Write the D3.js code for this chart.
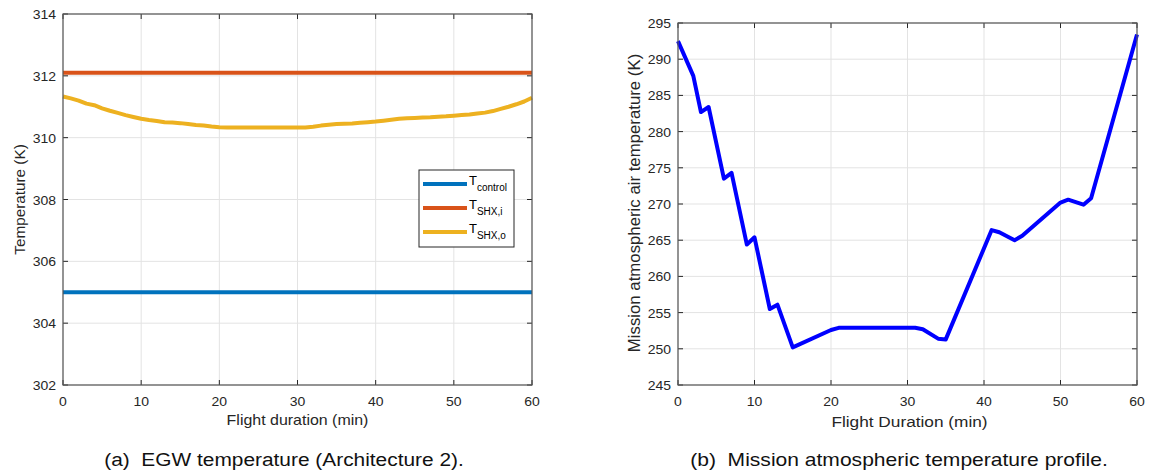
<!DOCTYPE html>
<html>
<head>
<meta charset="utf-8">
<script src="https://cdn.jsdelivr.net/npm/d3@7"></script>
<style>
    body { margin: 0; background: #fff; }
    svg { font-family: "Liberation Sans", Arial, sans-serif; }
</style>
</head>
<body>
<div id="chart"></div>
<script>
// (a) EGW temperature, values every minute
const minutes = d3.range(0, 61);
const tControl = minutes.map(() => 305.0);
const tShxIn = minutes.map(() => 312.1);
const tShxOut = [
    311.33, 311.27, 311.20, 311.10, 311.05, 310.95, 310.87, 310.80, 310.73, 310.67,
    310.61, 310.57, 310.54, 310.50, 310.49, 310.47, 310.44, 310.41, 310.39, 310.36,
    310.34, 310.33, 310.33, 310.33, 310.33, 310.33, 310.33, 310.33, 310.33, 310.33,
    310.33, 310.33, 310.35, 310.39, 310.42, 310.44, 310.45, 310.46, 310.48, 310.50,
    310.52, 310.55, 310.58, 310.61, 310.63, 310.64, 310.65, 310.66, 310.68, 310.69,
    310.71, 310.73, 310.75, 310.78, 310.81, 310.86, 310.93, 311.00, 311.08, 311.17,
    311.29
];
const ticksXA = [0, 10, 20, 30, 40, 50, 60];
const ticksYA = [302, 304, 306, 308, 310, 312, 314];

// (b) mission atmospheric temperature profile
const missionTime = [0, 2, 3, 4, 6, 7, 9, 10, 12, 13, 15, 20, 21, 31, 32, 34, 35, 41, 42, 44, 45, 50, 51, 53, 54, 60];
const missionTemp = [292.5, 287.7, 282.7, 283.4, 273.5, 274.3, 264.4, 265.4, 255.5, 256.1, 250.2, 252.6, 252.9, 252.9, 252.7, 251.4, 251.3, 266.4, 266.1, 265.0, 265.6, 270.2, 270.6, 269.9, 270.8, 293.4];
const ticksYB = [245, 250, 255, 260, 265, 270, 275, 280, 285, 290, 295];

const svg = d3.select("#chart").append("svg")
    .attr("width", 1150)
    .attr("height", 473);

// the figure is a bit stretched sideways, so text gets a small x scale
function label(g, x, y, str, size, anchor, sx, color) {
    return g.append("text")
        .attr("transform", `translate(${x},${y}) scale(${sx},1)`)
        .attr("text-anchor", anchor)
        .attr("font-size", size)
        .attr("fill", color || "#262626")
        .style("white-space", "pre")
        .text(str);
}

function drawGrid(g, x, y, xt, yt, w, h) {
    g.append("g").selectAll("line").data(xt).enter().append("line")
        .attr("x1", d => x(d)).attr("x2", d => x(d))
        .attr("y1", 0).attr("y2", h)
        .attr("stroke", "#e3e3e3").attr("stroke-width", 1);
    g.append("g").selectAll("line").data(yt).enter().append("line")
        .attr("x1", 0).attr("x2", w)
        .attr("y1", d => y(d)).attr("y2", d => y(d))
        .attr("stroke", "#e3e3e3").attr("stroke-width", 1);
}

function drawFrame(g, x, y, xt, yt, w, h) {
    const tl = 5;
    const c = "#262626";
    // inward ticks on all four sides
    xt.forEach(d => {
        g.append("line").attr("x1", x(d)).attr("x2", x(d)).attr("y1", h).attr("y2", h - tl).attr("stroke", c);
        g.append("line").attr("x1", x(d)).attr("x2", x(d)).attr("y1", 0).attr("y2", tl).attr("stroke", c);
    });
    yt.forEach(d => {
        g.append("line").attr("x1", 0).attr("x2", tl).attr("y1", y(d)).attr("y2", y(d)).attr("stroke", c);
        g.append("line").attr("x1", w).attr("x2", w - tl).attr("y1", y(d)).attr("y2", y(d)).attr("stroke", c);
    });
    g.append("rect").attr("x", 0).attr("y", 0).attr("width", w).attr("height", h)
        .attr("fill", "none").attr("stroke", "#555").attr("stroke-width", 1.2);

    xt.forEach(d => label(g, x(d), h + 21, String(d), 12.5, "middle", 1.12));
    yt.forEach(d => label(g, -7, y(d) + 5, String(d), 12.5, "end", 1.12));
}

// ---------- chart (a) ----------
const aL = 63, aT = 14, aW = 469, aH = 371;
const ga = svg.append("g").attr("transform", `translate(${aL},${aT})`);
const xa = d3.scaleLinear().domain([0, 60]).range([0, aW]);
const ya = d3.scaleLinear().domain([302, 314]).range([aH, 0]);
drawGrid(ga, xa, ya, ticksXA, ticksYA, aW, aH);

const seriesA = [
    { name: "control", values: tControl, color: "#0072BD" },
    { name: "SHX,i", values: tShxIn, color: "#D95319" },
    { name: "SHX,o", values: tShxOut, color: "#EDB120" }
];
const lineA = d3.line().x((d, i) => xa(minutes[i])).y(d => ya(d));
seriesA.forEach(s => {
    ga.append("path")
        .attr("d", lineA(s.values))
        .attr("fill", "none")
        .attr("stroke", s.color)
        .attr("stroke-width", 4)
        .attr("stroke-linejoin", "round");
});
drawFrame(ga, xa, ya, ticksXA, ticksYA, aW, aH);

// legend
const lg = svg.append("g").attr("transform", "translate(419,170)");
lg.append("rect").attr("width", 95).attr("height", 77)
    .attr("fill", "#fff").attr("stroke", "#262626").attr("stroke-width", 1);
seriesA.forEach((s, i) => {
    const yy = 14 + i * 24;
    lg.append("line").attr("x1", 4).attr("x2", 48).attr("y1", yy).attr("y2", yy)
        .attr("stroke", s.color).attr("stroke-width", 4);
    const t = lg.append("text").attr("x", 50).attr("y", yy + 1)
        .attr("font-size", 13).attr("fill", "#000");
    t.append("tspan").text("T");
    t.append("tspan").attr("dy", 6).attr("font-size", 10).text(s.name);
});

label(ga, aW / 2, aH + 40, "Flight duration (min)", 14, "middle", 1.14);
ga.append("text")
    .attr("transform", `translate(-38,${aH / 2}) rotate(-90)`)
    .attr("text-anchor", "middle")
    .attr("font-size", 15.3).attr("fill", "#262626")
    .text("Temperature (K)");

// ---------- chart (b) ----------
const bL = 678, bT = 23, bW = 459, bH = 362;
const gb = svg.append("g").attr("transform", `translate(${bL},${bT})`);
const xb = d3.scaleLinear().domain([0, 60]).range([0, bW]);
const yb = d3.scaleLinear().domain([245, 295]).range([bH, 0]);
drawGrid(gb, xb, yb, ticksXA, ticksYB, bW, bH);

const lineB = d3.line().x((d, i) => xb(missionTime[i])).y(d => yb(d));
gb.append("path")
    .attr("d", lineB(missionTemp))
    .attr("fill", "none")
    .attr("stroke", "#0000FF")
    .attr("stroke-width", 4)
    .attr("stroke-linejoin", "round");
drawFrame(gb, xb, yb, ticksXA, ticksYB, bW, bH);

label(gb, bW / 2 + 2, bH + 42, "Flight Duration (min)", 15, "middle", 1.15);
gb.append("text")
    .attr("transform", `translate(-38,${bH / 2 - 1}) rotate(-90)`)
    .attr("text-anchor", "middle")
    .attr("font-size", 16.8).attr("fill", "#262626")
    .text("Mission atmospheric air temperature (K)");

// captions
label(svg, 284, 466, "(a)  EGW temperature (Architecture 2).", 18, "middle", 1.16, "#111");
label(svg, 899, 466, "(b)  Mission atmospheric temperature profile.", 18, "middle", 1.17, "#111");
</script>
</body>
</html>
